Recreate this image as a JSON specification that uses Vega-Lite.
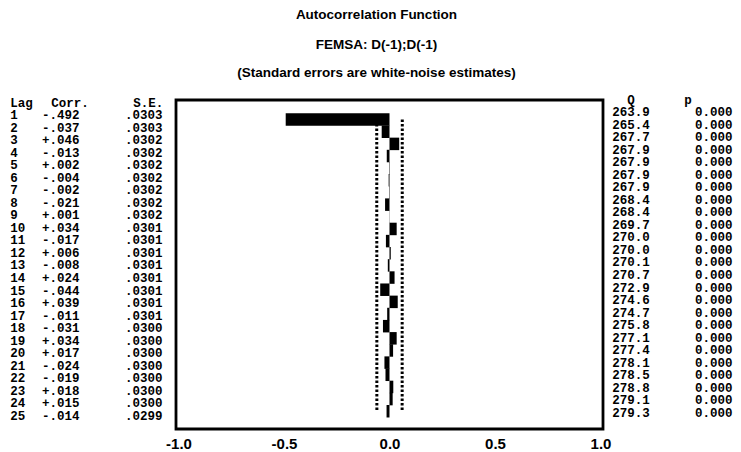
{
  "$schema": "https://vega.github.io/schema/vega-lite/v6.json",
  "padding": {"top": 8, "left": 0, "right": 0, "bottom": 0},
  "bounds": "flush",
  "spacing": 0,
  "title": {
    "text": "Autocorrelation Function",
    "subtitle": ["FEMSA: D(-1);D(-1)", "(Standard errors are white-noise estimates)"],
    "anchor": "middle",
    "dx": 6,
    "font": "Liberation Sans",
    "fontSize": 13.5,
    "fontWeight": "bold",
    "color": "black",
    "subtitleFont": "Liberation Sans",
    "subtitleFontSize": 13.5,
    "subtitleFontWeight": "bold",
    "subtitleColor": "black",
    "subtitleLineHeight": 28.5,
    "subtitlePadding": 16,
    "offset": 14
  },
  "datasets": {
    "acf": [
      {"lag": 1, "corr": -0.492, "se": 0.0303, "q": 263.9, "p": 0.0},
      {"lag": 2, "corr": -0.037, "se": 0.0303, "q": 265.4, "p": 0.0},
      {"lag": 3, "corr": 0.046, "se": 0.0302, "q": 267.7, "p": 0.0},
      {"lag": 4, "corr": -0.013, "se": 0.0302, "q": 267.9, "p": 0.0},
      {"lag": 5, "corr": 0.002, "se": 0.0302, "q": 267.9, "p": 0.0},
      {"lag": 6, "corr": -0.004, "se": 0.0302, "q": 267.9, "p": 0.0},
      {"lag": 7, "corr": -0.002, "se": 0.0302, "q": 267.9, "p": 0.0},
      {"lag": 8, "corr": -0.021, "se": 0.0302, "q": 268.4, "p": 0.0},
      {"lag": 9, "corr": 0.001, "se": 0.0302, "q": 268.4, "p": 0.0},
      {"lag": 10, "corr": 0.034, "se": 0.0301, "q": 269.7, "p": 0.0},
      {"lag": 11, "corr": -0.017, "se": 0.0301, "q": 270.0, "p": 0.0},
      {"lag": 12, "corr": 0.006, "se": 0.0301, "q": 270.0, "p": 0.0},
      {"lag": 13, "corr": -0.008, "se": 0.0301, "q": 270.1, "p": 0.0},
      {"lag": 14, "corr": 0.024, "se": 0.0301, "q": 270.7, "p": 0.0},
      {"lag": 15, "corr": -0.044, "se": 0.0301, "q": 272.9, "p": 0.0},
      {"lag": 16, "corr": 0.039, "se": 0.0301, "q": 274.6, "p": 0.0},
      {"lag": 17, "corr": -0.011, "se": 0.0301, "q": 274.7, "p": 0.0},
      {"lag": 18, "corr": -0.031, "se": 0.0300, "q": 275.8, "p": 0.0},
      {"lag": 19, "corr": 0.034, "se": 0.0300, "q": 277.1, "p": 0.0},
      {"lag": 20, "corr": 0.017, "se": 0.0300, "q": 277.4, "p": 0.0},
      {"lag": 21, "corr": -0.024, "se": 0.0300, "q": 278.1, "p": 0.0},
      {"lag": 22, "corr": -0.019, "se": 0.0300, "q": 278.5, "p": 0.0},
      {"lag": 23, "corr": 0.018, "se": 0.0300, "q": 278.8, "p": 0.0},
      {"lag": 24, "corr": 0.015, "se": 0.0300, "q": 279.1, "p": 0.0},
      {"lag": 25, "corr": -0.014, "se": 0.0299, "q": 279.3, "p": 0.0}
    ],
    "headers": [
      {"label": "Lag", "lag": 0},
      {"label": "Corr.", "lag": 0},
      {"label": "S.E.", "lag": 0},
      {"label": "Q", "lag": 0},
      {"label": "p", "lag": 0}
    ]
  },
  "hconcat": [
    {
      "width": 176,
      "height": 329,
      "layer": [
        {
          "data": {"name": "acf"},
          "mark": {"type": "text", "align": "left"},
          "encoding": {
            "x": {"datum": 0, "type": "quantitative", "scale": {"domain": [-1.1, 18.0], "nice": false, "zero": false}, "axis": null},
            "y": {"field": "lag", "type": "quantitative", "scale": {"domain": [-0.2, 26.05], "reverse": true, "nice": false, "zero": false}, "axis": null},
            "text": {"field": "lag", "type": "nominal"}
          }
        },
        {
          "data": {"name": "acf"},
          "transform": [
            {"calculate": "(datum.corr < 0 ? '-' : '+') + replace(format(abs(datum.corr), '.3f'), '0.', '.')", "as": "corr_text"}
          ],
          "mark": {"type": "text", "align": "center"},
          "encoding": {
            "x": {"datum": 5.5, "type": "quantitative"},
            "y": {"field": "lag", "type": "quantitative"},
            "text": {"field": "corr_text", "type": "nominal"}
          }
        },
        {
          "data": {"name": "acf"},
          "transform": [
            {"calculate": "replace(format(datum.se, '.4f'), '0.', '.')", "as": "se_text"}
          ],
          "mark": {"type": "text", "align": "center"},
          "encoding": {
            "x": {"datum": 14.5, "type": "quantitative"},
            "y": {"field": "lag", "type": "quantitative"},
            "text": {"field": "se_text", "type": "nominal"}
          }
        },
        {
          "data": {"name": "headers"},
          "transform": [{"filter": "datum.label === 'Lag'"}],
          "mark": {"type": "text", "align": "left"},
          "encoding": {
            "x": {"datum": 0, "type": "quantitative"},
            "y": {"field": "lag", "type": "quantitative"},
            "text": {"field": "label", "type": "nominal"}
          }
        },
        {
          "data": {"name": "headers"},
          "transform": [{"filter": "datum.label === 'Corr.'"}],
          "mark": {"type": "text", "align": "center"},
          "encoding": {
            "x": {"datum": 6.5, "type": "quantitative"},
            "y": {"field": "lag", "type": "quantitative"},
            "text": {"field": "label", "type": "nominal"}
          }
        },
        {
          "data": {"name": "headers"},
          "transform": [{"filter": "datum.label === 'S.E.'"}],
          "mark": {"type": "text", "align": "center"},
          "encoding": {
            "x": {"datum": 15, "type": "quantitative"},
            "y": {"field": "lag", "type": "quantitative"},
            "text": {"field": "label", "type": "nominal"}
          }
        }
      ]
    },
    {
      "width": 427,
      "height": 329,
      "view": {"stroke": "black", "strokeWidth": 2.8},
      "data": {"name": "acf"},
      "transform": [
        {"calculate": "-2 * datum.se", "as": "lower"},
        {"calculate": "2 * datum.se", "as": "upper"}
      ],
      "layer": [
        {
          "mark": {"type": "bar", "height": 12.5, "color": "black"},
          "encoding": {
            "x": {
              "field": "corr",
              "type": "quantitative",
              "scale": {"domain": [-1.012, 1.012], "nice": false, "zero": false},
              "axis": {
                "values": [-1, -0.5, 0, 0.5, 1],
                "labelExpr": "replace(format(datum.value, '.1f'), '\u2212', '-')",
                "labelFont": "Liberation Sans",
                "labelFontWeight": "bold",
                "labelFontSize": 15,
                "labelColor": "black",
                "labelFlush": false,
                "labelPadding": 7,
                "ticks": false,
                "domain": false,
                "grid": false,
                "title": null
              }
            },
            "x2": {"datum": 0},
            "y": {"field": "lag", "type": "quantitative", "scale": {"domain": [-0.2, 26.05], "reverse": true, "nice": false, "zero": false}, "axis": null}
          }
        },
        {
          "mark": {"type": "line", "color": "black", "strokeWidth": 3, "strokeDash": [2.5, 2]},
          "encoding": {
            "x": {"field": "lower", "type": "quantitative"},
            "y": {"field": "lag", "type": "quantitative"},
            "order": {"field": "lag", "type": "quantitative"}
          }
        },
        {
          "mark": {"type": "line", "color": "black", "strokeWidth": 3, "strokeDash": [2.5, 2]},
          "encoding": {
            "x": {"field": "upper", "type": "quantitative"},
            "y": {"field": "lag", "type": "quantitative"},
            "order": {"field": "lag", "type": "quantitative"}
          }
        }
      ]
    },
    {
      "width": 138,
      "height": 329,
      "layer": [
        {
          "data": {"name": "acf"},
          "mark": {"type": "text", "align": "center", "dy": -3},
          "encoding": {
            "x": {"datum": 2.5, "type": "quantitative", "scale": {"domain": [-0.54, 14.46], "nice": false, "zero": false}, "axis": null},
            "y": {"field": "lag", "type": "quantitative", "scale": {"domain": [-0.2, 26.05], "reverse": true, "nice": false, "zero": false}, "axis": null},
            "text": {"field": "q", "type": "quantitative", "format": ".1f"}
          }
        },
        {
          "data": {"name": "acf"},
          "mark": {"type": "text", "align": "center", "dy": -3},
          "encoding": {
            "x": {"datum": 11.5, "type": "quantitative"},
            "y": {"field": "lag", "type": "quantitative"},
            "text": {"field": "p", "type": "quantitative", "format": ".3f"}
          }
        },
        {
          "data": {"name": "headers"},
          "transform": [{"filter": "datum.label === 'Q'"}],
          "mark": {"type": "text", "align": "center", "dy": -3},
          "encoding": {
            "x": {"datum": 2.5, "type": "quantitative"},
            "y": {"field": "lag", "type": "quantitative"},
            "text": {"field": "label", "type": "nominal"}
          }
        },
        {
          "data": {"name": "headers"},
          "transform": [{"filter": "datum.label === 'p'"}],
          "mark": {"type": "text", "align": "center", "dy": -3},
          "encoding": {
            "x": {"datum": 8.7, "type": "quantitative"},
            "y": {"field": "lag", "type": "quantitative"},
            "text": {"field": "label", "type": "nominal"}
          }
        }
      ]
    }
  ],
  "config": {
    "view": {"stroke": null},
    "text": {"font": "Liberation Mono", "fontWeight": "bold", "fontSize": 12.5, "color": "black", "baseline": "middle"}
  }
}
